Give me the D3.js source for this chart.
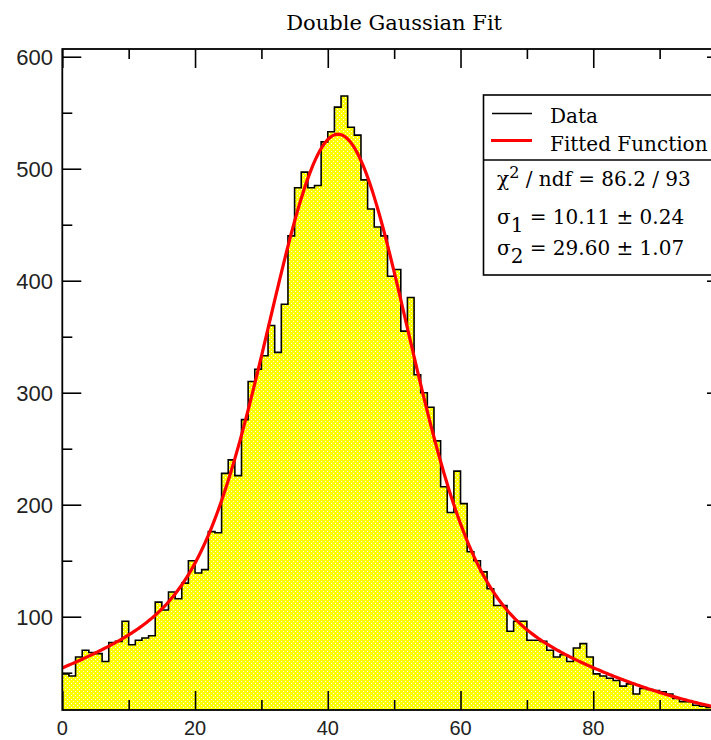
<!DOCTYPE html>
<html><head><meta charset="utf-8">
<script src="https://cdn.jsdelivr.net/npm/d3@7/dist/d3.min.js"></script>
<style>body{margin:0;background:#fff;overflow:hidden}</style>
</head><body>
<svg id="chart" width="711" height="740"></svg>
<script>
// ---- data ----
const binStart = 0, binWidth = 1;
const counts = [49,47,64,70,68,67,60,77,78,96,
  75,79,81,83,113,106,122,116,130,150,
  139,142,176,175,228,240,226,276,310,321,
  333,360,336,379,440,483,497,483,485,524,
  533,555,565,537,530,490,464,448,440,404,
  410,355,385,316,300,287,257,216,193,230,
  201,158,150,140,125,110,110,87,96,96,
  79,79,78,70,64,66,60,72,76,64,
  49,47,45,43,38,40,31,36,35,34,
  33,31,27,24,24,21,20,19,18,17];
// fitted double gaussian parameters (sigmas from the stats box; means/amplitudes estimated from the curve)
const fitMean1 = 41.6, fitSigma1 = 10.11, fitAmp1 = 396;
const fitMean2 = 40.0, fitSigma2 = 29.60, fitAmp2 = 135;
const xMajorTicks = [0,20,40,60,80,100];
const xMinorTicks = [10,30,50,70,90];
const xTickLabels = [0,20,40,60,80];
const yMajorTicks = [100,200,300,400,500,600];
const yMinorTicks = [50,150,250,350,450,550];
const titleText = "Double Gaussian Fit";
const legendLabels = ["Data","Fitted Function"];

// ---- layout ----
const svg = d3.select("#chart");
const L = 62.3, R = 726, T = 49, B = 710;
const x = d3.scaleLinear().domain([0,100]).range([L,R]);
const y = d3.scaleLinear().domain([16.7,606.9]).range([B,T]).clamp(true);

const defs = svg.append("defs");
const pat = defs.append("pattern").attr("id","dots").attr("patternUnits","userSpaceOnUse")
  .attr("width",4).attr("height",4);
pat.append("rect").attr("width",4).attr("height",4).attr("fill","#ffff00");
pat.append("rect").attr("x",1).attr("y",1).attr("width",1).attr("height",1).attr("fill","#ffffff").attr("opacity",0.95);
pat.append("rect").attr("x",3).attr("y",3).attr("width",1).attr("height",1).attr("fill","#ffffff").attr("opacity",0.95);
defs.append("clipPath").attr("id","plotclip").append("rect")
  .attr("x",L).attr("y",T).attr("width",R-L).attr("height",B-T);

const pts = counts.map((v,i)=>({x0: binStart + i*binWidth, v}));
pts.push({x0: binStart + counts.length*binWidth, v: counts[counts.length-1]});

const g = svg.append("g").attr("clip-path","url(#plotclip)");
g.append("path").datum(pts)
  .attr("d", d3.area().curve(d3.curveStepAfter).x(d=>x(d.x0)).y0(B).y1(d=>y(d.v)))
  .attr("fill","url(#dots)");
g.append("path").datum(pts)
  .attr("d", d3.line().curve(d3.curveStepAfter).x(d=>x(d.x0)).y(d=>y(d.v)))
  .attr("fill","none").attr("stroke","#000").attr("stroke-width",1.6);

// fitted curve
const fitX = d3.range(0, 100.01, 0.25);
const fitF = t => fitAmp1*Math.exp(-((t-fitMean1)**2)/(2*fitSigma1**2)) + fitAmp2*Math.exp(-((t-fitMean2)**2)/(2*fitSigma2**2));
g.append("path").datum(fitX)
  .attr("d", d3.line().x(t=>x(t)).y(t=>y(fitF(t))))
  .attr("fill","none").attr("stroke","#ff0000").attr("stroke-width",3.2).attr("stroke-linejoin","round");

// axes (ticks pointing inward)
function axisGroup(axis, tx, ty){
  const a = svg.append("g").attr("transform",`translate(${tx},${ty})`).call(axis);
  a.select(".domain").remove();
  a.selectAll(".tick line").attr("stroke","#000").attr("stroke-width",1.6);
  a.selectAll(".tick text").remove();
  return a;
}
const fmtNone = ()=>"";
axisGroup(d3.axisBottom(x).tickValues(xMajorTicks).tickSizeInner(-19).tickSizeOuter(0).tickFormat(fmtNone),0,B);
axisGroup(d3.axisBottom(x).tickValues(xMinorTicks).tickSizeInner(-10).tickSizeOuter(0).tickFormat(fmtNone),0,B);
axisGroup(d3.axisTop(x).tickValues(xMajorTicks).tickSizeInner(-19).tickSizeOuter(0).tickFormat(fmtNone),0,T);
axisGroup(d3.axisTop(x).tickValues(xMinorTicks).tickSizeInner(-10).tickSizeOuter(0).tickFormat(fmtNone),0,T);
axisGroup(d3.axisLeft(y).tickValues(yMajorTicks).tickSizeInner(-19).tickSizeOuter(0).tickFormat(fmtNone),L,0);
axisGroup(d3.axisLeft(y).tickValues(yMinorTicks).tickSizeInner(-10).tickSizeOuter(0).tickFormat(fmtNone),L,0);
axisGroup(d3.axisRight(y).tickValues(yMajorTicks).tickSizeInner(-19).tickSizeOuter(0).tickFormat(fmtNone),R,0);
axisGroup(d3.axisRight(y).tickValues(yMinorTicks).tickSizeInner(-10).tickSizeOuter(0).tickFormat(fmtNone),R,0);

// tick labels
const lab = "'Liberation Sans', Arial, sans-serif";
svg.append("g").selectAll("text").data(xTickLabels).join("text")
  .attr("x",d=>x(d)).attr("y",735).attr("text-anchor","middle")
  .attr("font-family",lab).attr("font-size",20).attr("fill","#222").text(d=>d);
svg.append("g").selectAll("text").data(yMajorTicks).join("text")
  .attr("x",53).attr("y",d=>y(d)+8).attr("text-anchor","end")
  .attr("font-family",lab).attr("font-size",22).attr("fill","#222").text(d=>d);

// frame
svg.append("rect").attr("x",L).attr("y",T).attr("width",R-L).attr("height",B-T)
  .attr("fill","none").attr("stroke","#000").attr("stroke-width",1.8);

// title
svg.append("text").attr("x",(L+R)/2).attr("y",30).attr("text-anchor","middle")
  .attr("font-family","'DejaVu Serif', serif").attr("font-size",21).attr("fill","#000").text(titleText);

// legend box
const serif = "'DejaVu Serif', serif";
const lg = svg.append("g");
lg.append("rect").attr("x",483.5).attr("y",95).attr("width",300).attr("height",180)
  .attr("fill","#fff").attr("stroke","#000").attr("stroke-width",1.6);
lg.append("line").attr("x1",483.5).attr("x2",783).attr("y1",160).attr("y2",160).attr("stroke","#000").attr("stroke-width",1.6);
lg.append("line").attr("x1",492).attr("x2",532).attr("y1",113.5).attr("y2",113.5).attr("stroke","#000").attr("stroke-width",1.4);
lg.append("line").attr("x1",491).attr("x2",532).attr("y1",140.5).attr("y2",140.5).attr("stroke","#ff0000").attr("stroke-width",3.2);
lg.append("text").attr("x",550).attr("y",123).attr("font-family",serif).attr("font-size",20).text(legendLabels[0]);
lg.append("text").attr("x",550).attr("y",151).attr("font-family",serif).attr("font-size",20).text(legendLabels[1]);

const s1 = lg.append("text").attr("x",497).attr("y",186).attr("font-family",serif).attr("font-size",20);
s1.append("tspan").text("χ");
s1.append("tspan").attr("dy",-8).attr("font-size",16).text("2");
s1.append("tspan").attr("dy",8).text(" / ndf = 86.2 / 93");
const s2 = lg.append("text").attr("x",497).attr("y",224).attr("font-family",serif).attr("font-size",20);
s2.append("tspan").text("σ");
s2.append("tspan").attr("dy",8).text("1");
s2.append("tspan").attr("dy",-8).text(" = 10.11 ± 0.24");
const s3 = lg.append("text").attr("x",497).attr("y",255).attr("font-family",serif).attr("font-size",20);
s3.append("tspan").text("σ");
s3.append("tspan").attr("dy",8).text("2");
s3.append("tspan").attr("dy",-8).text(" = 29.60 ± 1.07");
</script>
</body></html>
